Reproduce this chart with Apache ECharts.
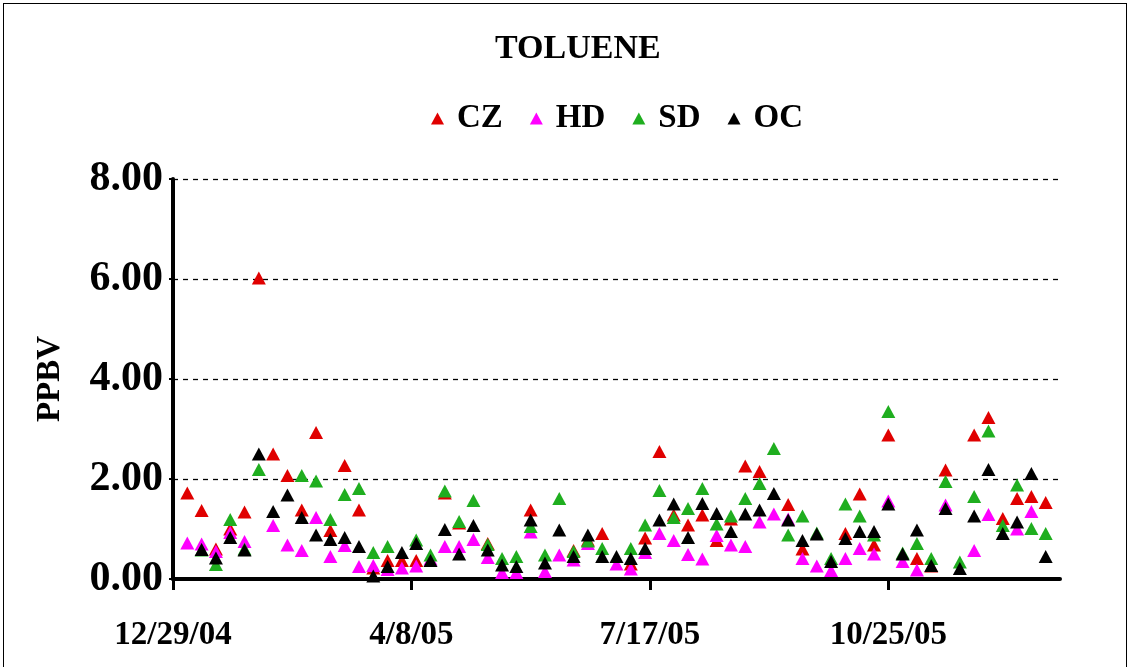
<!DOCTYPE html>
<html><head><meta charset="utf-8">
<script src="https://cdn.jsdelivr.net/npm/echarts@6/dist/echarts.min.js"></script>
<style>
html,body{margin:0;padding:0;background:#fff;}
#chart{width:1130px;height:667px;position:absolute;left:0;top:0;}
#frame{position:absolute;left:3px;top:3px;width:1122px;height:670px;border:1.5px solid #000;pointer-events:none;}
</style></head>
<body>
<div id="chart"></div>
<div id="frame"></div>
<script>
const sampleDates = ['1/4/05','1/10/05','1/16/05','1/22/05','1/28/05','2/3/05','2/9/05','2/15/05','2/21/05','2/27/05',
'3/5/05','3/11/05','3/17/05','3/23/05','3/29/05','4/4/05','4/10/05','4/16/05','4/22/05','4/28/05',
'5/4/05','5/10/05','5/16/05','5/22/05','5/28/05','6/3/05','6/9/05','6/15/05','6/21/05','6/27/05',
'7/3/05','7/9/05','7/15/05','7/21/05','7/27/05','8/2/05','8/8/05','8/14/05','8/20/05','8/26/05',
'9/1/05','9/7/05','9/13/05','9/19/05','9/25/05','10/1/05','10/7/05','10/13/05','10/19/05','10/25/05',
'10/31/05','11/6/05','11/12/05','11/18/05','11/24/05','11/30/05','12/6/05','12/12/05','12/18/05','12/24/05','12/30/05'];

const CZ = [1.72,1.37,0.60,1.00,1.34,6.02,2.50,2.07,1.38,2.93,
0.97,2.27,1.38,0.22,0.37,0.37,0.37,null,1.72,1.12,
null,0.71,null,null,1.38,null,null,0.57,0.78,0.91,
null,0.30,0.82,2.55,1.28,1.08,1.28,0.77,1.20,2.26,
2.15,null,1.49,0.60,null,null,0.91,1.70,0.68,2.88,
null,0.41,0.26,2.18,null,2.88,3.23,1.21,1.61,1.65,1.53];

const HD = [0.72,0.70,0.55,0.93,0.75,null,1.07,0.68,0.57,1.23,
0.45,0.67,0.25,0.27,0.19,0.22,0.26,0.40,0.65,0.65,
0.79,0.43,0.13,0.13,0.94,0.15,0.48,0.38,0.71,null,
0.30,0.20,0.53,0.91,0.77,0.49,0.40,0.87,0.68,0.65,
1.14,1.30,1.20,0.41,0.26,0.17,0.41,0.61,0.50,1.56,
0.35,0.18,null,1.48,null,0.57,1.29,null,1.00,1.35,null];

const SD = [null,0.58,0.29,1.19,0.60,2.19,null,null,2.07,1.96,
1.19,1.69,1.81,0.53,0.65,null,0.78,0.48,1.76,1.15,
1.57,0.69,0.41,0.45,1.05,0.48,1.61,0.55,0.76,0.61,
null,0.61,1.08,1.77,1.23,1.41,1.81,1.10,1.26,1.61,
1.91,2.61,0.88,1.26,0.92,0.41,1.50,1.26,0.88,3.35,
0.52,0.71,0.41,1.95,0.34,1.65,2.96,1.07,1.88,1.01,0.91];

const OC = [null,0.59,0.42,0.83,0.58,2.50,1.35,1.68,1.23,0.88,
0.79,0.83,0.65,0.06,0.25,0.53,0.71,0.37,0.99,0.50,
1.07,0.58,0.28,0.25,1.18,0.32,0.98,0.45,0.88,0.45,
0.45,0.41,0.61,1.18,1.50,0.83,1.51,1.31,0.95,1.30,
1.38,1.71,1.18,0.77,0.90,0.35,0.81,0.95,0.95,1.50,
0.50,0.98,0.27,1.41,0.21,1.26,2.19,0.91,1.14,2.11,0.45];

const xTickLabels = ['12/29/04','4/8/05','7/17/05','10/25/05'];
const seriesNames = ['CZ','HD','SD','OC'];
const seriesColors = ['#e00000','#ff00ff','#1fae1f','#000000'];

const origin = Date.UTC(2004, 11, 29);
function dayOffset(s){
  const p = s.split('/');
  return Math.round((Date.UTC(2000 + +p[2], +p[0]-1, +p[1]) - origin) / 86400000);
}
const xs = sampleDates.map(dayOffset);
function pairs(arr){ return arr.map((v,i)=> v==null ? null : [xs[i], v]).filter(d=>d); }

const FONT = '"Liberation Serif","Times New Roman",serif';
const chart = echarts.init(document.getElementById('chart'));
chart.setOption({
  animation:false,
  backgroundColor:'#fff',
  title:{text:'TOLUENE',left:490,top:27,
    textStyle:{fontFamily:FONT,fontWeight:'bold',fontSize:34,color:'#000'}},
  legend:{top:97,left:426,icon:'triangle',itemWidth:13,itemHeight:12,itemGap:27,
    data:seriesNames,
    textStyle:{fontFamily:FONT,fontWeight:'bold',fontSize:33,color:'#000',padding:[0,0,0,8]}},
  grid:{left:173,right:70,top:179,bottom:88,containLabel:false},
  xAxis:{type:'value',min:0,max:372,interval:100,
    axisLine:{show:true,onZero:false,lineStyle:{color:'#000',width:4}},
    axisTick:{show:true,length:11,lineStyle:{color:'#000',width:3}},
    splitLine:{show:false},
    axisLabel:{showMaxLabel:false,margin:40,fontFamily:FONT,fontWeight:'bold',fontSize:33,color:'#000',
      formatter:v=>{const k=Math.round(v/100);return (v%100===0 && xTickLabels[k])?xTickLabels[k]:'';}}},
  yAxis:{type:'value',min:0,max:8,interval:2,name:'PPBV',nameLocation:'middle',nameGap:106,
    nameTextStyle:{fontFamily:FONT,fontWeight:'bold',fontSize:33,color:'#000'},
    axisLine:{show:true,lineStyle:{color:'#000',width:4}},
    axisTick:{show:true,length:4,lineStyle:{color:'#000',width:2}},
    splitLine:{show:true,lineStyle:{color:'#000',type:[5,5],width:1.3}},
    axisLabel:{margin:10,fontFamily:FONT,fontWeight:'bold',fontSize:42,color:'#000',
      formatter:v=>v.toFixed(2)}},
  series:[CZ,HD,SD,OC].map((arr,k)=>({
    name:seriesNames[k],type:'scatter',symbol:'triangle',symbolSize:[14,13],
    itemStyle:{color:seriesColors[k],opacity:1},
    data:pairs(arr),z:2+k
  }))
});
</script>
</body></html>
